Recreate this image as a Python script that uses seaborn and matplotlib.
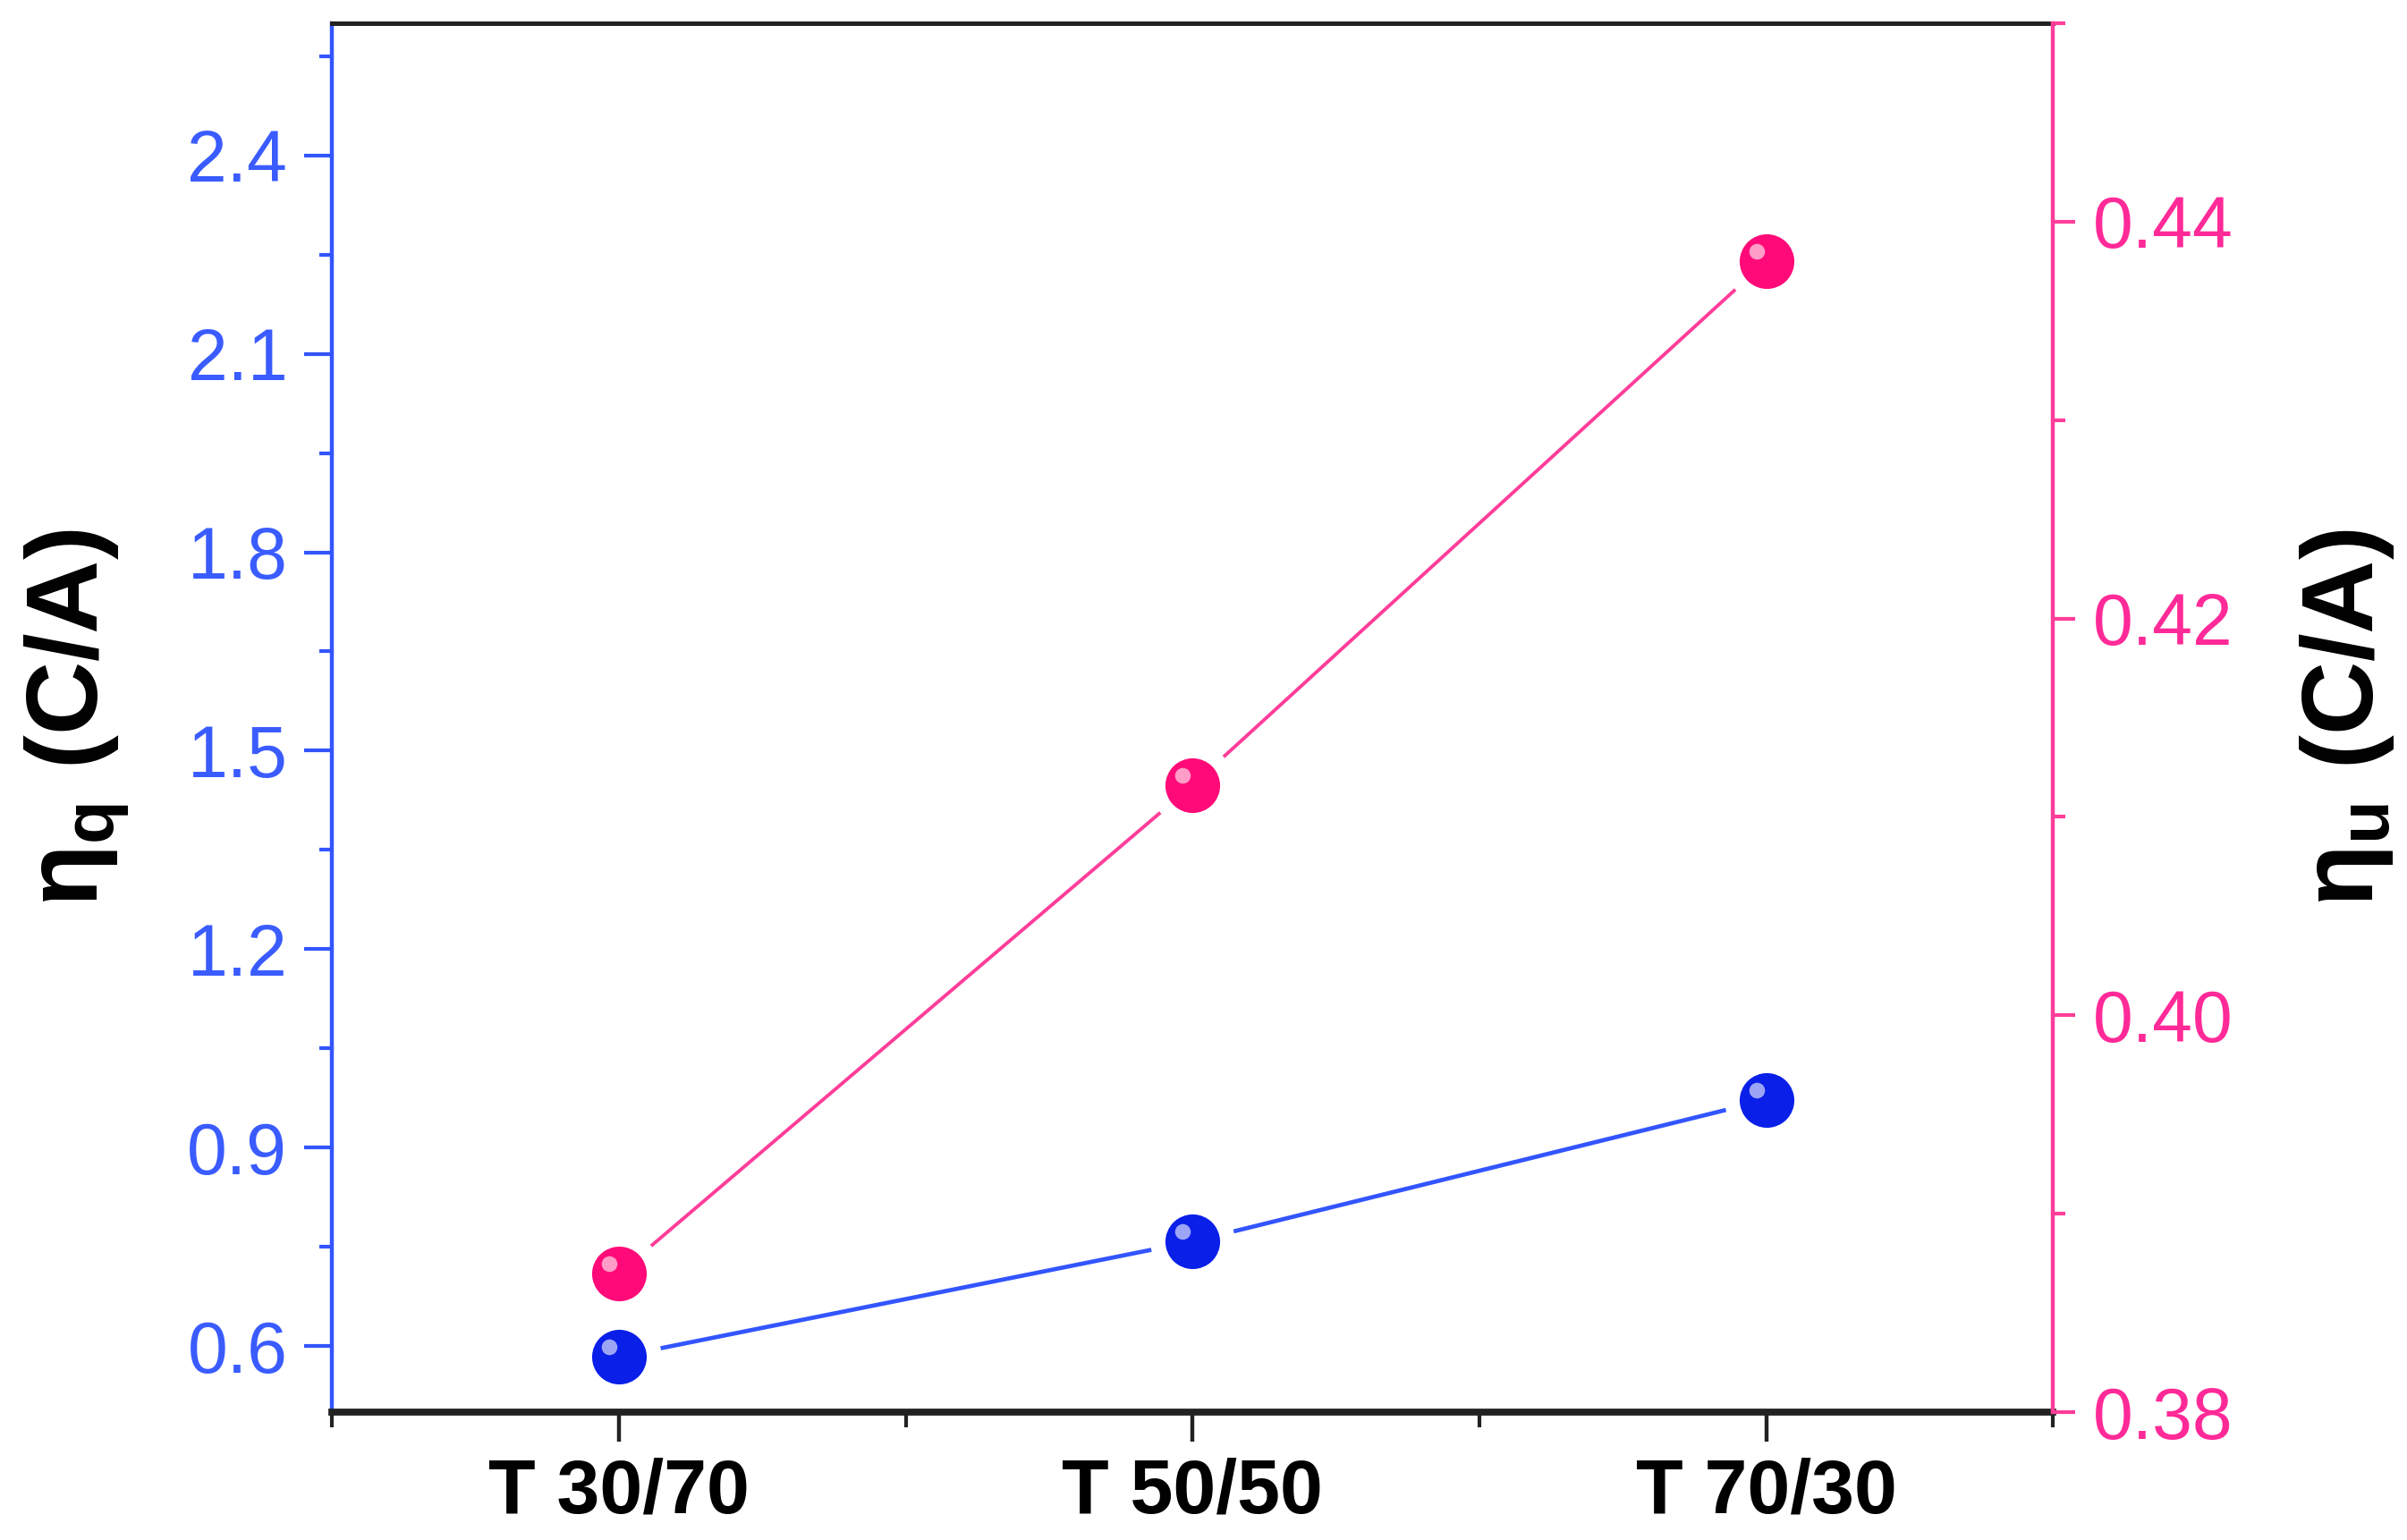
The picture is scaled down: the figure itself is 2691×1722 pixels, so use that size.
import numpy as np
import pandas as pd
import matplotlib
matplotlib.use('Agg')
import matplotlib.pyplot as plt
import matplotlib.transforms as mtransforms
from matplotlib.ticker import MultipleLocator, FormatStrFormatter
import seaborn as sns

samples = ['T 30/70', 'T 50/50', 'T 70/30']
eta_q = [0.584, 0.758, 0.972]
eta_u = [0.3870, 0.4116, 0.4380]

blue_line = '#3355ff'
blue_mark = '#0a1fe8'
blue_txt = '#3a5cff'
pink_line = '#ff3d9a'
pink_mark = '#ff0a78'
pink_txt = '#ff2a98'

sns.set_theme(style='white')
plt.rcParams['font.family'] = ['Liberation Sans', 'DejaVu Sans']
plt.rcParams['mathtext.fontset'] = 'custom'
plt.rcParams['mathtext.rm'] = 'Liberation Sans'
plt.rcParams['mathtext.bf'] = 'Liberation Sans:bold'

df = pd.DataFrame({'sample': samples, 'eta_q': eta_q, 'eta_u': eta_u})

fig, ax = plt.subplots(figsize=(13.455, 8.61), dpi=200)
fig.subplots_adjust(left=0.138, right=0.853, top=0.985, bottom=0.083)
ax2 = ax.twinx()

def draw(a, col, lc, mc, lw):
    sns.lineplot(data=df, x='sample', y=col, ax=a, color=lc, lw=lw,
                 marker='o', markersize=28, markerfacecolor=mc,
                 markeredgecolor='white', markeredgewidth=6, zorder=3)
    # small highlight on each ball
    off = mtransforms.offset_copy(a.transData, fig=fig, x=-4, y=4, units='points')
    a.scatter(df['sample'], df[col], s=40, color='white', alpha=0.6,
              transform=off, zorder=4, linewidths=0)

draw(ax, 'eta_q', blue_line, blue_mark, 1.7)
draw(ax2, 'eta_u', pink_line, pink_mark, 1.4)

ax.set_xlim(-0.5, 2.5)
ax.set_ylim(0.5, 2.6)
ax2.set_ylim(0.38, 0.45)

ax.yaxis.set_major_locator(MultipleLocator(0.3))
ax.yaxis.set_minor_locator(MultipleLocator(0.15))
ax.yaxis.set_major_formatter(FormatStrFormatter('%.1f'))
ax2.yaxis.set_major_locator(MultipleLocator(0.02))
ax2.yaxis.set_minor_locator(MultipleLocator(0.01))
ax2.yaxis.set_major_formatter(FormatStrFormatter('%.2f'))
ax.xaxis.set_minor_locator(MultipleLocator(0.5))

for a in (ax, ax2):
    for s in a.spines.values():
        s.set_visible(True)
ax.spines['left'].set_color(blue_line)
ax.spines['left'].set_linewidth(1.6)
ax2.spines['left'].set_visible(False)
ax2.spines['right'].set_color(pink_line)
ax2.spines['right'].set_linewidth(1.6)
ax.spines['right'].set_visible(False)
ax2.spines['bottom'].set_visible(False)
ax2.spines['top'].set_visible(False)
ax.spines['bottom'].set_color('#222222')
ax.spines['bottom'].set_linewidth(2.8)
ax.spines['top'].set_color('#222222')
ax.spines['top'].set_linewidth(1.8)

ax.tick_params(axis='y', which='major', direction='out', length=11, width=1.5,
               color=blue_line, labelcolor=blue_txt, labelsize=29, pad=7, left=True)
ax.tick_params(axis='y', which='minor', direction='out', length=5, width=1.5,
               color=blue_line, left=True)
ax2.tick_params(axis='y', which='major', direction='out', length=9, width=1.5,
                color=pink_line, labelcolor=pink_txt, labelsize=29, pad=7, right=True)
ax2.tick_params(axis='y', which='minor', direction='out', length=5, width=1.5,
                color=pink_line, right=True)
ax.tick_params(axis='x', which='major', direction='out', length=12, width=1.6,
               color='#222222', labelcolor='black', pad=6, bottom=True)
ax.tick_params(axis='x', which='minor', direction='out', length=6, width=1.5,
               color='#222222', bottom=True)
ax.set_xticks(range(len(samples)))
ax.set_xticklabels(samples, fontsize=31, fontweight='bold')

ax.set_xlabel('')
ax.set_ylabel(r'η$_\mathbf{q}$ (C/A)', fontsize=41, fontweight='bold',
              color='black', labelpad=22)
ax2.set_ylabel(r'η$_\mathbf{u}$ (C/A)', fontsize=41, fontweight='bold',
               color='black', labelpad=26)

fig.savefig('out.png', dpi=200, facecolor='white')
